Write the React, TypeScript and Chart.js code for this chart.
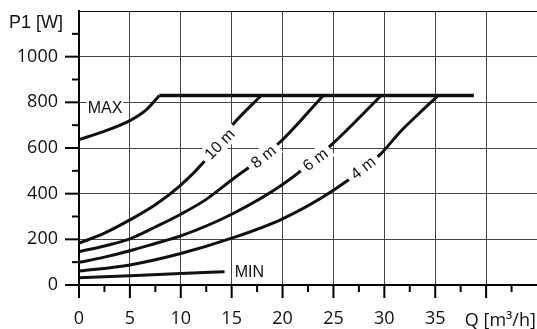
import React, { useEffect, useRef } from 'react';
import { Chart, registerables } from 'chart.js';

Chart.register(...registerables);

// Flow Q [m³/h] and power P1 [W]
const maxRiseQ = [0, 2.4, 5, 6.6, 7.9];
const maxRiseP = [637, 672, 720, 767, 830];
const maxFlatQ = [7.9, 38.8];
const maxFlatP = [830, 830];

const h10Q = [0, 2.5, 5, 7.5, 10, 12.4, 15.1, 17.9];
const h10P = [183, 227, 285, 351, 437, 545, 702, 830];

const h8Q = [0, 2.5, 5, 7.5, 10, 12.5, 15, 17.5, 20, 24.0];
const h8P = [146, 171, 202, 254, 310, 375, 460, 542, 636, 830];

const h6Q = [0, 2.5, 5, 7.5, 10, 15, 20, 24.8, 29.7];
const h6P = [99, 122, 150, 182, 215, 310, 440, 614, 830];

const h4Q = [0, 5, 10, 15, 20, 25, 29.6, 31.5, 33.5, 35.3];
const h4P = [61, 88, 138, 205, 290, 415, 572, 668, 755, 830];

const minQ = [0, 5, 10, 14.3];
const minP = [32, 41, 50, 58];

const xTickLabels = ['0', '5', '10', '15', '20', '25', '30', '35'];
const yTickLabels = ['0', '200', '400', '600', '800', '1000'];

const curveLabels = [
  { text: '10 m', q: 13.8, p: 618, angle: -46 },
  { text: '8 m', q: 18.1, p: 563, angle: -39 },
  { text: '6 m', q: 23.2, p: 550, angle: -37 },
  { text: '4 m', q: 27.9, p: 513, angle: -38 },
];
const maxLabel = { text: 'MAX', q: 0.85, p: 778 };
const minLabel = { text: 'MIN', q: 15.3, p: 57 };
const yTitle = 'P1 [W]';
const xTitle = { text: 'Q [m³/h]', q: 41.4 };

const pts = (qs: number[], ps: number[]) => qs.map((q, i) => ({ x: q, y: ps[i] }));

const LABEL_FONT = '16px "Liberation Sans", Arial, sans-serif';

const decor = {
  id: 'decor',
  afterDatasetsDraw(chart: any) {
    const { ctx, chartArea, scales } = chart;
    const x = scales.x;
    const y = scales.y;
    ctx.save();
    ctx.strokeStyle = '#000';
    x.ticks.forEach((t: any) => {
      const v = t.value;
      if (v >= 45) return;
      const px = x.getPixelForValue(v);
      const major = v % 5 === 0;
      ctx.lineWidth = 2;
      ctx.beginPath();
      ctx.moveTo(px, chartArea.bottom);
      ctx.lineTo(px, chartArea.bottom + (major ? 13 : 7));
      ctx.stroke();
    });
    y.ticks.forEach((t: any) => {
      const v = t.value;
      if (v >= 1200) return;
      const py = y.getPixelForValue(v);
      const major = v % 200 === 0;
      ctx.lineWidth = 2;
      ctx.beginPath();
      ctx.moveTo(chartArea.left, py);
      ctx.lineTo(chartArea.left - (major ? 14 : 7), py);
      ctx.stroke();
    });

    ctx.font = LABEL_FONT;
    ctx.textAlign = 'center';
    ctx.textBaseline = 'middle';
    curveLabels.forEach((l) => {
      const px = x.getPixelForValue(l.q);
      const py = y.getPixelForValue(l.p);
      const w = ctx.measureText(l.text).width;
      ctx.save();
      ctx.translate(px, py);
      ctx.rotate((l.angle * Math.PI) / 180);
      ctx.fillStyle = '#fff';
      ctx.fillRect(-w / 2 - 5, -9, w + 10, 18);
      ctx.fillStyle = '#111';
      ctx.fillText(l.text, 0, 1);
      ctx.restore();
    });

    ctx.textAlign = 'left';
    [maxLabel, minLabel].forEach((l) => {
      const px = x.getPixelForValue(l.q);
      const py = y.getPixelForValue(l.p);
      const w = ctx.measureText(l.text).width;
      ctx.fillStyle = '#fff';
      ctx.fillRect(px - 1, py - 8, w + 2, 16);
      ctx.fillStyle = '#111';
      ctx.fillText(l.text, px, py + 1);
    });

    ctx.font = '18px "Liberation Sans", Arial, sans-serif';
    ctx.textBaseline = 'alphabetic';
    ctx.textAlign = 'left';
    ctx.fillStyle = '#111';
    ctx.fillText(yTitle, chartArea.left - 70, chartArea.top + 17);
    ctx.font = '18px "Open Sans", sans-serif';
    ctx.textAlign = 'center';
    ctx.fillText(xTitle.text, x.getPixelForValue(xTitle.q), chartArea.bottom + 41);
    ctx.restore();
  },
};

const zeroPad = (s: any) => {
  s.paddingLeft = 0;
  s.paddingRight = 0;
  s.paddingTop = 0;
  s.paddingBottom = 0;
};

export default function App() {
  const ref = useRef<HTMLCanvasElement>(null);
  useEffect(() => {
    if (!ref.current) return;
    const line = (qs: number[], ps: number[], w = 3) => ({
      data: pts(qs, ps),
      borderColor: '#111',
      borderWidth: w,
      pointRadius: 0,
      fill: false,
      cubicInterpolationMode: 'monotone' as const,
      borderCapStyle: 'butt' as const,
    });
    const chart = new Chart(ref.current, {
      type: 'line',
      data: {
        datasets: [
          line(maxRiseQ, maxRiseP),
          line(maxFlatQ, maxFlatP, 3.5),
          line(h10Q, h10P),
          line(h8Q, h8P),
          line(h6Q, h6P),
          line(h4Q, h4P),
          line(minQ, minP),
        ] as any,
      },
      options: {
        animation: false,
        responsive: false,
        layout: { padding: { top: 11, left: 0, right: 0, bottom: 0 } },
        plugins: { legend: { display: false }, tooltip: { enabled: false } },
        scales: {
          x: {
            type: 'linear',
            min: 0,
            max: 45,
            afterFit: (s: any) => {
              s.height = 44;
              zeroPad(s);
            },
            ticks: {
              stepSize: 2.5,
              autoSkip: false,
              maxRotation: 0,
              padding: 23,
              color: '#111',
              font: { family: '"Open Sans", sans-serif', size: 18 },
              callback: (v: any) => {
                const n = Number(v);
                return n % 5 === 0 && xTickLabels.includes(String(n)) ? String(n) : '';
              },
            },
            grid: {
              drawTicks: false,
              lineWidth: 1,
              color: (c: any) => {
                const v = c.tick?.value;
                return v % 5 === 0 && v > 0 && v < 45 ? '#444' : 'rgba(0,0,0,0)';
              },
            },
            border: { display: true, color: '#000', width: 2 },
          },
          y: {
            min: 0,
            max: 1200,
            afterFit: (s: any) => {
              s.width = 79;
              zeroPad(s);
            },
            ticks: {
              stepSize: 100,
              autoSkip: false,
              padding: 21,
              color: '#111',
              font: { family: '"Open Sans", sans-serif', size: 18 },
              callback: (v: any) => {
                const n = Number(v);
                return n % 200 === 0 && yTickLabels.includes(String(n)) ? String(n) : '';
              },
            },
            grid: {
              drawTicks: false,
              lineWidth: 1,
              color: (c: any) => {
                const v = c.tick?.value;
                if (v === 1200) return '#111';
                return v % 200 === 0 && v > 0 ? '#444' : 'rgba(0,0,0,0)';
              },
            },
            border: { display: true, color: '#000', width: 2 },
          },
        },
      },
      plugins: [decor],
    });
    return () => chart.destroy();
  }, []);
  return (
    <div style={{ position: 'fixed', left: 0, top: 0, width: 537, height: 329, background: '#fff' }}>
      <canvas ref={ref} width={537} height={329} style={{ display: 'block' }} />
    </div>
  );
}
